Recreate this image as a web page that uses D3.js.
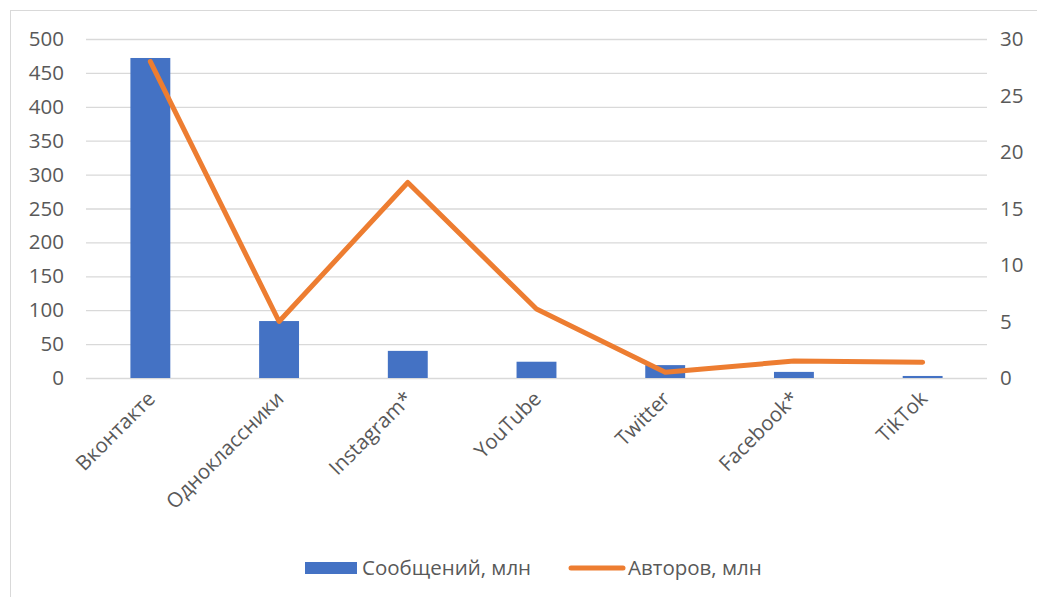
<!DOCTYPE html>
<html>
<head>
<meta charset="utf-8">
<script src="https://cdn.jsdelivr.net/npm/d3@7"></script>
<style>
  body { margin: 0; background: #fff; }
  text { font-family: "Open Sans", "Noto Sans", sans-serif; fill: #595959; }
</style>
</head>
<body>
<div id="chart"></div>
<script>
const categories = ["Вконтакте", "Одноклассники", "Instagram*", "YouTube", "Twitter", "Facebook*", "TikTok"];
const messages = [472, 84, 40, 24, 19, 9, 3];
const authors = [28, 5, 17.3, 6.1, 0.5, 1.5, 1.4];
const leftTicks = [0, 50, 100, 150, 200, 250, 300, 350, 400, 450, 500];
const rightTicks = [0, 5, 10, 15, 20, 25, 30];

const width = 1037, height = 597;
const margin = { top: 39, right: 50, bottom: 219, left: 86 };
const innerW = width - margin.left - margin.right;
const innerH = height - margin.top - margin.bottom;
const fontSize = "20.5px";

const svg = d3.select("#chart").append("svg")
    .attr("width", width)
    .attr("height", height);

// outer frame
svg.append("rect")
    .attr("x", 10.5).attr("y", 10.5)
    .attr("width", width).attr("height", height)
    .attr("fill", "none")
    .attr("stroke", "#d9d9d9");

const g = svg.append("g")
    .attr("transform", `translate(${margin.left},${margin.top})`);

const x = d3.scaleBand().domain(categories).range([0, innerW]).paddingInner(0.69).paddingOuter(0.345);
const yL = d3.scaleLinear().domain([0, 500]).range([innerH, 0]);
const yR = d3.scaleLinear().domain([0, 30]).range([innerH, 0]);

// gridlines
g.selectAll(".grid").data(leftTicks).enter().append("line")
    .attr("x1", 0).attr("x2", innerW)
    .attr("y1", d => yL(d) + 0.5).attr("y2", d => yL(d) + 0.5)
    .attr("stroke", "#d9d9d9").attr("stroke-width", 1.3);

// left axis
const left = g.append("g").call(d3.axisLeft(yL).tickValues(leftTicks).tickSize(0).tickPadding(22));
left.select(".domain").remove();
left.selectAll("text").style("font-size", fontSize).style("fill", "#595959");

// right axis
const right = g.append("g").attr("transform", `translate(${innerW},0)`)
    .call(d3.axisRight(yR).tickValues(rightTicks).tickSize(0).tickPadding(13));
right.select(".domain").remove();
right.selectAll("text").style("font-size", fontSize).style("fill", "#595959");

// bars
g.selectAll(".bar").data(categories).enter().append("rect")
    .attr("x", d => x(d))
    .attr("y", (d, i) => yL(messages[i]))
    .attr("width", x.bandwidth())
    .attr("height", (d, i) => innerH - yL(messages[i]))
    .attr("fill", "#4472c4");

// line
const line = d3.line()
    .x((d, i) => x(categories[i]) + x.bandwidth() / 2)
    .y(d => yR(d));
g.append("path")
    .datum(authors)
    .attr("d", line)
    .attr("fill", "none")
    .attr("stroke", "#ed7d31")
    .attr("stroke-width", 5)
    .attr("stroke-linecap", "round")
    .attr("stroke-linejoin", "round");

// category labels
g.selectAll(".cat").data(categories).enter().append("text")
    .attr("transform", d => `translate(${x(d) + x.bandwidth() / 2 + 6},${innerH + 22}) rotate(-45)`)
    .attr("text-anchor", "end")
    .style("font-size", fontSize)
    .text(d => d);

// legend
const legend = svg.append("g").attr("transform", "translate(305,568)");
legend.append("rect").attr("x", 0).attr("y", -6).attr("width", 52).attr("height", 12).attr("fill", "#4472c4");
legend.append("text").attr("x", 57).attr("y", 7).style("font-size", fontSize).text("Сообщений, млн");
legend.append("line").attr("x1", 266).attr("x2", 318).attr("y1", 0).attr("y2", 0)
    .attr("stroke", "#ed7d31").attr("stroke-width", 5).attr("stroke-linecap", "round");
legend.append("text").attr("x", 323).attr("y", 7).style("font-size", fontSize).text("Авторов, млн");
</script>
</body>
</html>
